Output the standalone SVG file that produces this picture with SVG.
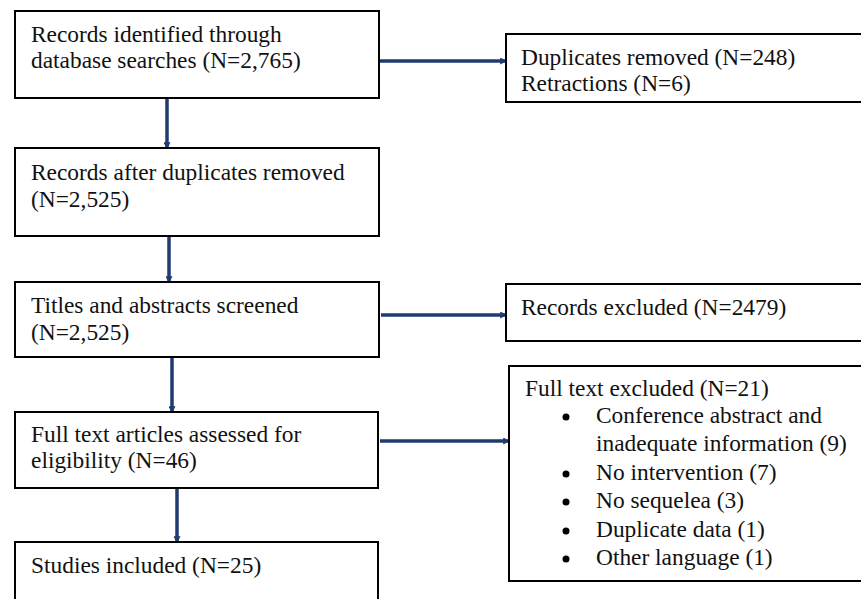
<svg xmlns="http://www.w3.org/2000/svg" width="861" height="599" viewBox="0 0 861 599">
<style>
.box{fill:#fff;stroke:#000;stroke-width:2}
.c{stroke:#1f3b70;stroke-width:3.5;fill:none;marker-end:url(#ah)}
text{font-family:'Liberation Serif',serif;font-size:23.4px;fill:#111}
</style>
<defs>
<marker id="ah" viewBox="0 0 6 6" refX="5" refY="3" markerWidth="2" markerHeight="2" orient="auto"><path d="M0,0L6,3L0,6z" fill="#1f3b70"/></marker>
</defs>
<rect width="861" height="599" fill="#fff"/>
<g id="connectors">
<path class="c" d="M379,61H506"/>
<path class="c" d="M167,98V148"/>
<path class="c" d="M169,236V282"/>
<path class="c" d="M381,315H506"/>
<path class="c" d="M172,357V412"/>
<path class="c" d="M380,441H509"/>
<path class="c" d="M177,488V542"/>
</g>
<g id="n1"><rect class="box" x="15" y="11" width="364" height="87"/>
<text x="31" y="42">Records identified through</text>
<text x="31" y="68">database searches (N=2,765)</text></g>
<g id="n2"><rect class="box" x="15" y="148" width="364" height="88"/>
<text x="31" y="180">Records after duplicates removed</text>
<text x="31" y="207">(N=2,525)</text></g>
<g id="n3"><rect class="box" x="15" y="282" width="364" height="75"/>
<text x="31" y="313">Titles and abstracts screened</text>
<text x="31" y="340">(N=2,525)</text></g>
<g id="n4"><rect class="box" x="15" y="412" width="363" height="76"/>
<text x="31" y="442">Full text articles assessed for</text>
<text x="31" y="468">eligibility (N=46)</text></g>
<g id="n5"><rect class="box" x="15" y="542" width="363" height="70"/>
<text x="31" y="573">Studies included (N=25)</text></g>
<g id="n6"><rect class="box" x="506" y="34" width="370" height="68"/>
<text x="521" y="65">Duplicates removed (N=248)</text>
<text x="521" y="91">Retractions (N=6)</text></g>
<g id="n7"><rect class="box" x="506" y="284" width="370" height="57"/>
<text x="521" y="315">Records excluded (N=2479)</text></g>
<g id="n8"><rect class="box" x="509" y="366" width="370" height="215"/>
<text x="525" y="396">Full text excluded (N=21)</text>
<circle cx="566" cy="417" r="3.5" fill="#000"/><text x="596" y="423">Conference abstract and</text>
<text x="596" y="451">inadequate information (9)</text>
<circle cx="566" cy="474" r="3.5" fill="#000"/><text x="596" y="480">No intervention (7)</text>
<circle cx="566" cy="502" r="3.5" fill="#000"/><text x="596" y="508">No sequelea (3)</text>
<circle cx="566" cy="531" r="3.5" fill="#000"/><text x="596" y="537">Duplicate data (1)</text>
<circle cx="566" cy="559" r="3.5" fill="#000"/><text x="596" y="565">Other language (1)</text>
</g>
</svg>
